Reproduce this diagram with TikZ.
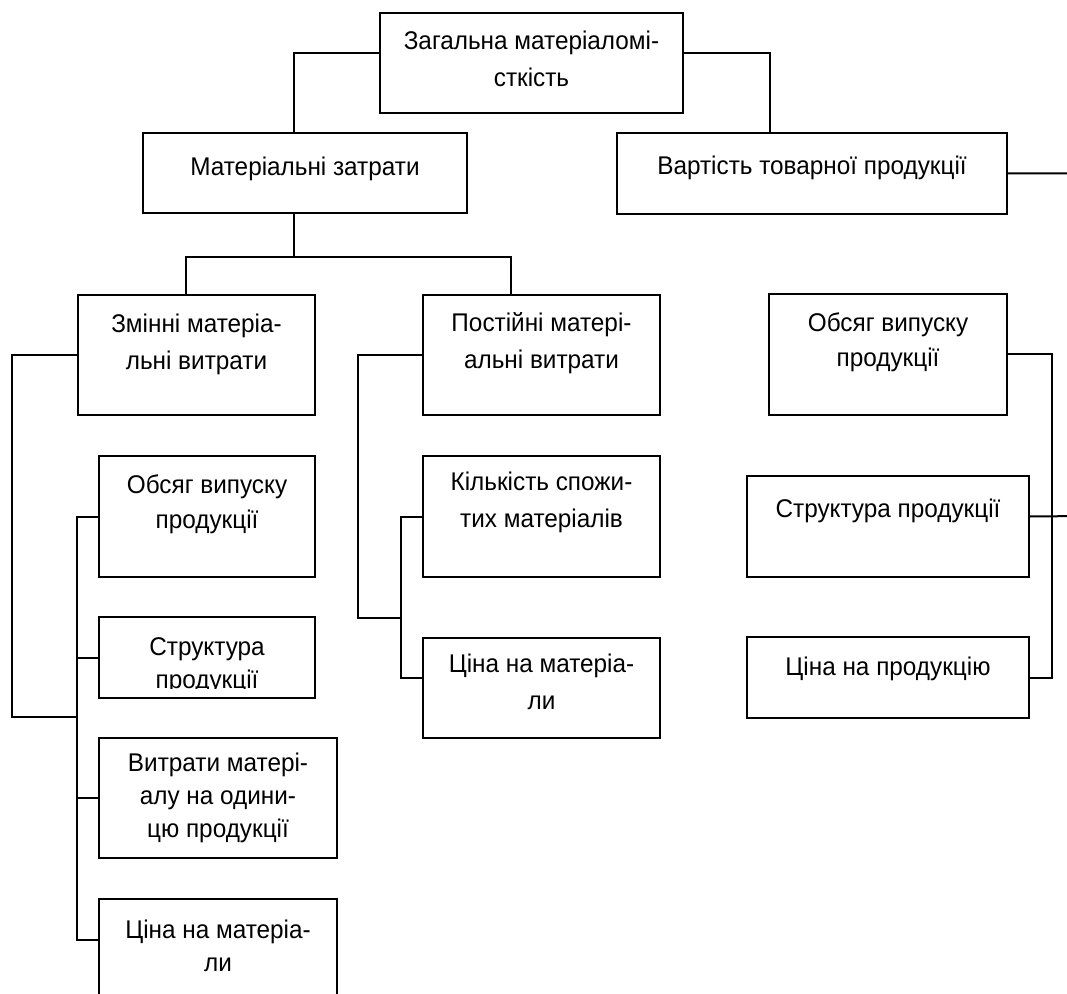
\documentclass[tikz,border=0pt]{standalone}
\usepackage{fontspec}
\setmainfont[FakeStretch=0.95]{Liberation Sans}
\usetikzlibrary{calc,fit}

% boxes are given by their corners, text is set from the top of each box
\tikzset{
  box/.style={draw, line width=1.5pt, inner sep=0pt, rectangle},
  txt/.style={anchor=north, align=center, inner sep=0pt},
  f37/.style={font=\fontsize{19.2pt}{27.75pt}\selectfont},
  f35/.style={font=\fontsize{19.2pt}{26.25pt}\selectfont},
  f33/.style={font=\fontsize{19.2pt}{24.75pt}\selectfont},
  link/.style={draw, line width=1.5pt, line cap=rect}
}

\begin{document}
\begin{tikzpicture}[x=0.75pt,y=-0.75pt]
\useasboundingbox (0,0) rectangle (1067,994);
\clip (0,0) rectangle (1067,994);

% ---- boxes ----
\node[box, fit={(380,13) (683,113)}]   (top)   {};
\node[box, fit={(143,133) (467,213)}]  (mat)   {};
\node[box, fit={(617,133) (1007,214)}] (vart)  {};
\node[box, fit={(78,295) (315,415)}]   (zm)    {};
\node[box, fit={(423,295) (660,415)}]  (pst)   {};
\node[box, fit={(99,456) (315,577)}]   (ob1)   {};
\node[box, fit={(99,617) (315,698)}]   (str1)  {};
\node[box, fit={(99,738) (337,858)}]   (vyt)   {};
\node[box, fit={(99,899) (337,1010)}]  (cina1) {};
\node[box, fit={(423,456) (660,577)}]  (kil)   {};
\node[box, fit={(423,638) (660,738)}]  (cina2) {};
\node[box, fit={(769,294) (1007,415)}] (ob2)   {};
\node[box, fit={(747,476) (1029,577)}] (str2)  {};
\node[box, fit={(747,637) (1029,718)}] (cina3) {};

% ---- texts ----
\node[txt,f37] (top-t)   at ($(top.north)+(0,19)$)   {Загальна матеріаломі-\\сткість};
\node[txt,f37] (mat-t)   at ($(mat.north)+(0,25)$)   {Матеріальні затрати};
\node[txt,f37] (vart-t)  at ($(vart.north)+(0,24)$)  {Вартість товарної продукції};
\node[txt,f37] (zm-t)    at ($(zm.north)+(0,20)$)    {Змінні матеріа-\\льні витрати};
\node[txt,f37] (pst-t)   at ($(pst.north)+(0,18)$)   {Постійні матері-\\альні витрати};
\node[txt,f35] (ob1-t)   at ($(ob1.north)+(0,19)$)   {Обсяг випуску\\продукції};
\begin{scope}
  \clip (99,617) rectangle (315,688);
  \node[txt,f33] (str1-t) at ($(str1.north)+(0,21)$) {Структура\\продукції};
\end{scope}
\node[txt,f33] (vyt-t)   at ($(vyt.north)+(0,16)$)   {Витрати матері-\\алу на одини-\\цю продукції};
\node[txt,f33] (cina1-t) at ($(cina1.north)+(0,22)$) {Ціна на матеріа-\\ли};
\node[txt,f37] (kil-t)   at ($(kil.north)+(0,17)$)   {Кількість спожи-\\тих матеріалів};
\node[txt,f37] (cina2-t) at ($(cina2.north)+(0,17)$) {Ціна на матеріа-\\ли};
\node[txt,f35] (ob2-t)   at ($(ob2.north)+(0,19)$)   {Обсяг випуску\\продукції};
\node[txt,f37] (str2-t)  at ($(str2.north)+(0,24)$)  {Структура продукції};
\node[txt,f37] (cina3-t) at ($(cina3.north)+(0,21)$) {Ціна на продукцію};

% ---- connectors ----
% top level
\path[link] ($(top.west)+(0,-10)$) -| ($(mat.north)+(-11,0)$);
\path[link] ($(top.east)+(0,-10)$) -| ($(vart.north)+(-42,0)$);

% material costs split into variable and fixed
\coordinate (j1) at ($(mat.south)+(-11,43)$);
\path[link] ($(mat.south)+(-11,0)$) -- (j1);
\path[link] ($(zm.north)+(-10.5,0)$) |- (j1) -| ($(pst.north)+(-30.5,0)$);

% variable costs and their factors
\coordinate (v1) at ($(ob1.west)+(-21,0)$);
\coordinate (v4) at ($(cina1.west)+(-21,-14.5)$);
\path[link] (zm.west) -| ($(zm.west)+(-65,0)$) |- ($(str1.west)+(-21,59)$);
\path[link] (v1) -- (v4);
\path[link] (ob1.west) -- (v1);
\path[link] (str1.west) -- ++(-21,0);
\path[link] (vyt.west) -- ++(-21,0);
\path[link] ($(cina1.west)+(0,-14.5)$) -- (v4);

% fixed costs and their factors
\coordinate (c1) at ($(kil.west)+(-21,0)$);
\coordinate (c2) at ($(cina2.west)+(-21,-10)$);
\path[link] (pst.west) -| ($(pst.west)+(-64,0)$) |- ($(kil.south west)+(-21,40)$);
\path[link] (c1) -- (c2);
\path[link] (kil.west) -- (c1);
\path[link] ($(cina2.west)+(0,-10)$) -- (c2);

% value of marketable output
\path[link] (ob2.east) -| ($(ob2.east)+(44,0)$) |- (cina3.east);
\path[link] (vart.east) -| (1085,516) -- ($(str2.east)+(0,-10)$);
\end{tikzpicture}
\end{document}
